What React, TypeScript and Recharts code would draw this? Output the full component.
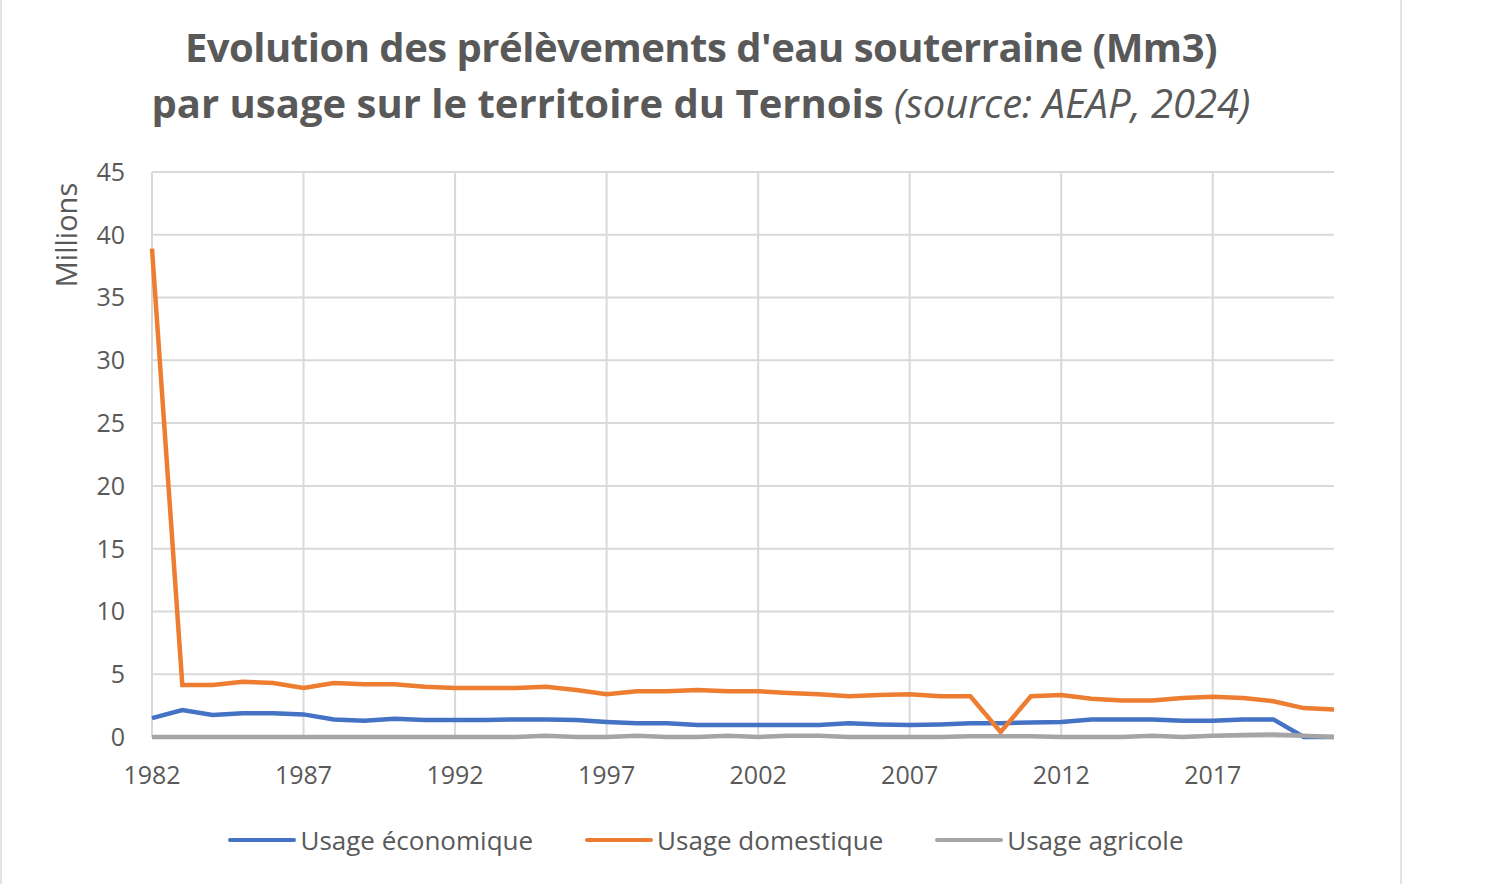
import React from 'react';
import { LineChart, Line, XAxis, YAxis, CartesianGrid, ReferenceLine } from 'recharts';

const years = [
  1982, 1983, 1984, 1985, 1986, 1987, 1988, 1989, 1990, 1991,
  1992, 1993, 1994, 1995, 1996, 1997, 1998, 1999, 2000, 2001,
  2002, 2003, 2004, 2005, 2006, 2007, 2008, 2009, 2010, 2011,
  2012, 2013, 2014, 2015, 2016, 2017, 2018, 2019, 2020, 2021,
];

// valeurs en Mm3
const economique = [
  1.5, 2.15, 1.75, 1.9, 1.9, 1.8, 1.4, 1.3, 1.45, 1.35,
  1.35, 1.35, 1.4, 1.4, 1.35, 1.2, 1.1, 1.1, 0.95, 0.95,
  0.95, 0.95, 0.95, 1.1, 1.0, 0.95, 1.0, 1.1, 1.1, 1.15,
  1.2, 1.4, 1.4, 1.4, 1.3, 1.3, 1.4, 1.4, 0, 0,
];

const domestique = [
  38.9, 4.15, 4.15, 4.4, 4.3, 3.9, 4.3, 4.2, 4.2, 4.0,
  3.9, 3.9, 3.9, 4.0, 3.75, 3.4, 3.65, 3.65, 3.75, 3.65,
  3.65, 3.5, 3.4, 3.25, 3.35, 3.4, 3.25, 3.25, 0.4, 3.25,
  3.35, 3.05, 2.9, 2.9, 3.1, 3.2, 3.1, 2.85, 2.3, 2.2,
];

const agricole = [
  0, 0, 0, 0, 0, 0, 0, 0, 0, 0,
  0, 0, 0, 0.1, 0, 0, 0.1, 0, 0, 0.1,
  0, 0.1, 0.1, 0, 0, 0, 0, 0.05, 0.05, 0.05,
  0, 0, 0, 0.1, 0, 0.1, 0.15, 0.2, 0.1, 0,
];

const xTicks = [1982, 1987, 1992, 1997, 2002, 2007, 2012, 2017];
const yTicks = [0, 5, 10, 15, 20, 25, 30, 35, 40, 45];

const BLUE = '#4472C4';
const ORANGE = '#ED7D31';
const GRAY = '#A5A5A5';
const TEXT = '#595959';
const GRID = '#d9d9d9';
const FONT = '"Open Sans", sans-serif';

const data = years.map((year, i) => ({
  year,
  economique: economique[i],
  domestique: domestique[i],
  agricole: agricole[i],
}));

const legendItems = [
  { label: 'Usage économique', color: BLUE },
  { label: 'Usage domestique', color: ORANGE },
  { label: 'Usage agricole', color: GRAY },
];

export default function App() {
  return (
    <div style={{ position: 'absolute', left: 0, top: 0, width: 1512, height: 884, background: '#fff', fontFamily: FONT, overflow: 'hidden' }}>
      <div style={{ position: 'absolute', left: 0, top: 0, width: 2, height: 884, background: '#e3e3e3' }} />
      <div style={{ position: 'absolute', left: 1400, top: 0, width: 2, height: 884, background: '#e3e3e3' }} />

      <div style={{ position: 'absolute', left: 0, top: 19, width: 1402, textAlign: 'center', color: TEXT, fontSize: 40, fontWeight: 700, lineHeight: '56px' }}>
        <div style={{ letterSpacing: -0.5 }}>Evolution des prélèvements d'eau souterraine (Mm3)</div>
        <div>
          par usage sur le territoire du Ternois{' '}
          <span style={{ fontStyle: 'italic', fontWeight: 400 }}>(source: AEAP, 2024)</span>
        </div>
      </div>

      <div style={{ position: 'absolute', left: 0, top: 0 }}>
        <LineChart width={1401} height={884} data={data} margin={{ top: 172, right: 67, bottom: 0, left: 0 }}>
          <CartesianGrid stroke={GRID} strokeWidth={2} vertical={false} />
          {xTicks.map((t) => (
            <ReferenceLine key={t} x={t} stroke={GRID} strokeWidth={2} />
          ))}
          <XAxis
            dataKey="year"
            type="number"
            domain={[1982, 2021]}
            ticks={xTicks}
            interval={0}
            height={147}
            axisLine={false}
            tickLine={false}
            tickMargin={23}
            tick={{ fill: TEXT, fontSize: 25, fontFamily: FONT }}
          />
          <YAxis
            width={152}
            domain={[0, 45]}
            ticks={yTicks}
            interval={0}
            axisLine={false}
            tickLine={false}
            tickMargin={21}
            tick={{ fill: TEXT, fontSize: 25, fontFamily: FONT }}
            label={{
              content: () => (
                <text x={65} y={235} transform="rotate(-90 65 235)" textAnchor="middle" dominantBaseline="central" fill={TEXT} fontSize={29} fontFamily={FONT}>
                  Millions
                </text>
              ),
            }}
          />
          <Line dataKey="economique" name="Usage économique" stroke={BLUE} strokeWidth={4.5} dot={false} isAnimationActive={false} />
          <Line dataKey="domestique" name="Usage domestique" stroke={ORANGE} strokeWidth={4.5} dot={false} isAnimationActive={false} />
          <Line dataKey="agricole" name="Usage agricole" stroke={GRAY} strokeWidth={4.5} dot={false} isAnimationActive={false} />
        </LineChart>
      </div>

      <div style={{ position: 'absolute', left: 0, top: 821, width: 1412, display: 'flex', justifyContent: 'center', gap: 52, color: TEXT, fontSize: 26, lineHeight: '38px' }}>
        {legendItems.map((it) => (
          <div key={it.label} style={{ display: 'flex', alignItems: 'center' }}>
            <div style={{ width: 68, height: 4, background: it.color, borderRadius: 2, marginRight: 4 }} />
            <span>{it.label}</span>
          </div>
        ))}
      </div>
    </div>
  );
}
